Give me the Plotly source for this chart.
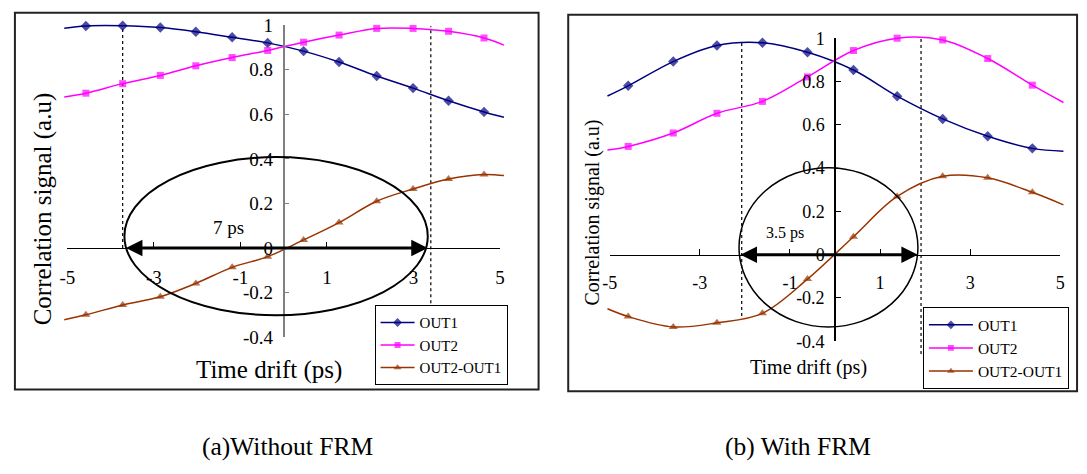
import plotly.graph_objects as go

W, H = 1087, 474

# ---------------- data ----------------
# (a) Without FRM
left_x = [-5.07, -4.57, -3.72, -2.85, -2.03, -1.19, -0.37, 0.46, 1.28, 2.15, 2.99, 3.81, 4.63, 5.09]
left_out1 = [0.987, 0.997, 0.998, 0.990, 0.971, 0.946, 0.921, 0.884, 0.835, 0.772, 0.718, 0.661, 0.611, 0.587]
left_out2 = [0.678, 0.695, 0.738, 0.775, 0.818, 0.855, 0.887, 0.924, 0.956, 0.986, 0.986, 0.973, 0.943, 0.911]
left_diff = [-0.322, -0.300, -0.256, -0.219, -0.159, -0.087, -0.039, 0.036, 0.114, 0.210, 0.265, 0.310, 0.330, 0.325]
left_window = [-3.68, 3.33]          # horizontal extent of the 7 ps window
left_window_y = [-0.302, 0.408]      # vertical extent of the ellipse
left_guides_x = [-3.72, 3.40]
left_guides_y = [[0.0, 0.997], [-0.275, 0.996]]
left_label = "7 ps"
left_label_pos = [-1.28, 0.09]

# (b) With FRM
right_x = [-5.05, -4.59, -3.59, -2.62, -1.61, -0.61, 0.41, 1.38, 2.39, 3.39, 4.38, 5.07]
right_out1 = [0.733, 0.780, 0.892, 0.966, 0.979, 0.935, 0.853, 0.732, 0.627, 0.547, 0.491, 0.478]
right_out2 = [0.483, 0.500, 0.562, 0.653, 0.708, 0.821, 0.943, 1.000, 0.992, 0.906, 0.783, 0.703]
right_diff = [-0.250, -0.286, -0.334, -0.315, -0.271, -0.113, 0.083, 0.269, 0.362, 0.355, 0.288, 0.230]
right_window = [-2.13, 1.84]
right_window_y = [-0.334, 0.402]
right_guides_x = [-2.07, 1.91]
right_guides_y = [[-0.283, 0.979], [-0.459, 1.0]]
right_label = "3.5 ps"
right_label_pos = [-1.10, 0.10]

series_names = ["OUT1", "OUT2", "OUT2-OUT1"]
x_tickvals = [-5, -3, -1, 1, 3, 5]
x_ticktext = ["-5", "-3", "-1", "1", "3", "5"]
y_tickvals = [-0.4, -0.2, 0, 0.2, 0.4, 0.6, 0.8, 1]
y_ticktext = ["-0.4", "-0.2", "0", "0.2", "0.4", "0.6", "0.8", "1"]
y_title = "Correlation signal (a.u)"
x_title = "Time drift (ps)"
captions = ["(a)Without FRM", "(b) With FRM"]

# ---------------- styling ----------------
FONT = "Liberation Serif, Times New Roman, serif"
colors = ["#000080", "#FF00FF", "#993300"]
symbols = ["diamond", "square", "triangle-up"]
msizes = [8, 7, 8]

# pixel geometry of each panel: origin position and pixels per unit
GL = dict(x0=279, sx=43.8, y0=249, sy=233)
GR = dict(x0=837, sx=45.6, y0=256, sy=226.5)


def xdom(g, lo, hi):
    return [(g["x0"] + lo * g["sx"]) / W, (g["x0"] + hi * g["sx"]) / W]


def ydom(g, lo, hi):
    return [1 - (g["y0"] - lo * g["sy"]) / H, 1 - (g["y0"] - hi * g["sy"]) / H]


fig = go.Figure()


def add_panel(xs, ys_list, xa, ya, legend):
    n = len(xs)
    for name, ys, c, s, ms in zip(series_names, ys_list, colors, symbols, msizes):
        sizes = [0] + [ms] * (n - 2) + [0]
        fig.add_trace(go.Scatter(
            x=xs, y=ys, name=name, mode="lines+markers",
            line=dict(color=c, width=1.5, shape="spline"),
            marker=dict(symbol=s, size=sizes, color=c, line=dict(width=0)),
            xaxis=xa, yaxis=ya, legend=legend, cliponaxis=False,
        ))


def add_guides(gx, gy, xa, ya):
    for xv, (y0, y1) in zip(gx, gy):
        fig.add_trace(go.Scatter(
            x=[xv, xv], y=[y0, y1], mode="lines",
            line=dict(color="black", width=1.2, dash="dot"),
            showlegend=False, hoverinfo="skip", xaxis=xa, yaxis=ya,
        ))


add_guides(left_guides_x, left_guides_y, "x", "y")
add_guides(right_guides_x, right_guides_y, "x2", "y2")
add_panel(left_x, [left_out1, left_out2, left_diff], "x", "y", "legend")
add_panel(right_x, [right_out1, right_out2, right_diff], "x2", "y2", "legend2")

# dummy traces to create the display (axis) subplots
for xa, ya in [("x3", "y3"), ("x4", "y4")]:
    fig.add_trace(go.Scatter(x=[None], y=[None], xaxis=xa, yaxis=ya,
                             showlegend=False, hoverinfo="skip"))

hidden = dict(visible=False, showgrid=False, zeroline=False)


def disp_x(g, color, size):
    return dict(domain=xdom(g, -5, 5), range=[-5, 5], anchor="free",
                position=1 - g["y0"] / H, showline=True, linecolor=color, linewidth=1,
                ticks="inside", ticklen=6, tickcolor=color, tickwidth=1,
                tickvals=x_tickvals, ticktext=x_ticktext, showgrid=False, zeroline=False,
                tickfont=dict(family=FONT, size=size, color="black"), ticklabelstandoff=12)


def disp_y(g, color, size):
    return dict(domain=ydom(g, -0.4, 1), range=[-0.4, 1], anchor="free",
                position=g["x0"] / W, showline=True, linecolor=color, linewidth=1.5,
                ticks="inside", ticklen=5, tickcolor=color, tickwidth=1,
                tickvals=y_tickvals, ticktext=y_ticktext, showgrid=False, zeroline=False,
                tickfont=dict(family=FONT, size=size, color="black"), ticklabelstandoff=6)


fig.update_layout(
    width=W, height=H, margin=dict(l=0, r=0, t=0, b=0),
    font=dict(family=FONT, color="black"),
    paper_bgcolor="white", plot_bgcolor="rgba(0,0,0,0)",
    showlegend=True,
    xaxis=dict(domain=xdom(GL, -5.6, 5.6), range=[-5.6, 5.6], anchor="y", **hidden),
    yaxis=dict(domain=ydom(GL, -0.55, 1.05), range=[-0.55, 1.05], anchor="x", **hidden),
    xaxis2=dict(domain=xdom(GR, -5.4, 5.4), range=[-5.4, 5.4], anchor="y2", **hidden),
    yaxis2=dict(domain=ydom(GR, -0.55, 1.05), range=[-0.55, 1.05], anchor="x2", **hidden),
    xaxis3=disp_x(GL, "black", 19),
    yaxis3=disp_y(GL, "#808080", 19),
    xaxis4=disp_x(GR, "black", 18),
    yaxis4=disp_y(GR, "black", 18),
    legend=dict(x=371 / W, y=1 - 309 / H, xanchor="left", yanchor="top",
                bordercolor="black", borderwidth=1, bgcolor="white",
                font=dict(family=FONT, size=15, color="black"), itemwidth=34, tracegroupgap=0),
    legend2=dict(x=926 / W, y=1 - 311 / H, xanchor="left", yanchor="top",
                 bordercolor="black", borderwidth=1, bgcolor="white",
                 font=dict(family=FONT, size=15.5, color="black"), itemwidth=44, tracegroupgap=0),
)

shapes = [
    dict(type="rect", xref="paper", yref="paper", x0=7 / W, x1=537 / W, y0=1 - 397 / H, y1=1 - 3 / H,
         line=dict(color="#222222", width=2), layer="below"),
    dict(type="rect", xref="paper", yref="paper", x0=567 / W, x1=1082 / W, y0=1 - 399 / H, y1=1 - 5 / H,
         line=dict(color="#222222", width=2), layer="below"),
    dict(type="circle", xref="x", yref="y", x0=left_window[0], x1=left_window[1],
         y0=left_window_y[0], y1=left_window_y[1], line=dict(color="black", width=2)),
    dict(type="circle", xref="x2", yref="y2", x0=right_window[0], x1=right_window[1],
         y0=right_window_y[0], y1=right_window_y[1], line=dict(color="black", width=1.5)),
]
fig.update_layout(shapes=shapes)

ann = []
for win, xr, yr, lab, lpos, fs in [(left_window, "x", "y", left_label, left_label_pos, 19),
                                    (right_window, "x2", "y2", right_label, right_label_pos, 16)]:
    ann.append(dict(x=win[1], y=0, ax=win[0], ay=0, xref=xr, yref=yr, axref=xr, ayref=yr,
                    text="", showarrow=True, arrowhead=2, startarrowhead=2, arrowside="end+start",
                    arrowwidth=3, arrowsize=1.1, startarrowsize=1.1, arrowcolor="black"))
    ann.append(dict(x=lpos[0], y=lpos[1], xref=xr, yref=yr, text=lab, showarrow=False,
                    xanchor="center", yanchor="middle",
                    font=dict(family=FONT, size=fs, color="black")))


def paper_text(px, py, text, size, angle=0):
    return dict(x=px / W, y=1 - py / H, xref="paper", yref="paper", text=text, textangle=angle,
                xanchor="center", yanchor="middle", showarrow=False,
                font=dict(family=FONT, size=size, color="black"))


ann += [
    paper_text(35, 208, y_title, 25, -90),
    paper_text(264, 377, x_title, 25),
    paper_text(592, 212, y_title, 20, -90),
    paper_text(810, 374, x_title, 20),
    paper_text(283, 457, captions[0], 25.5),
    paper_text(800, 457, captions[1], 25.5),
]
fig.update_layout(annotations=ann)

fig.write_html("out.html", config={"displayModeBar": False},
               post_script="document.body.style.margin='0';document.body.style.overflow='hidden';")
